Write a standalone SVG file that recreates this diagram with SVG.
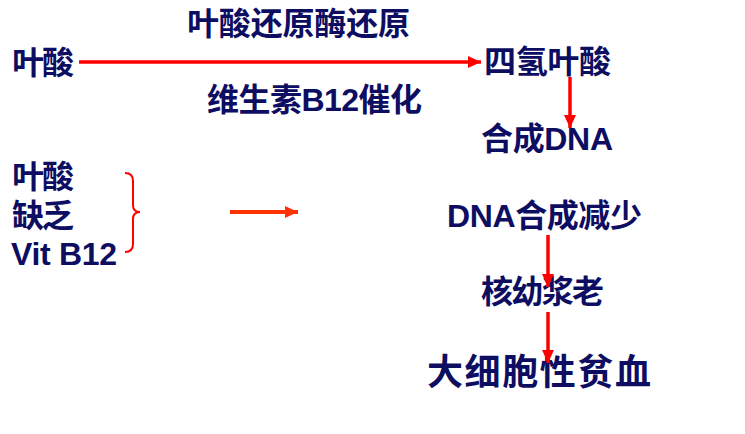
<svg xmlns="http://www.w3.org/2000/svg" width="745" height="434" viewBox="0 0 745 434">
<style>
text{font-family:"Liberation Sans","Noto Sans CJK SC",sans-serif;font-weight:bold;fill:#0d0d62;font-size:32px}
.big{font-size:36px}
.red{stroke:#ff0000;stroke-width:3.5;fill:none}
.org{stroke:#ff3300;stroke-width:4;fill:none}
</style>
<defs>
<marker id="ah" markerUnits="userSpaceOnUse" markerWidth="13" markerHeight="12" refX="13" refY="6" orient="auto">
<path d="M0,0 L13,6 L0,12 z" fill="#ff0000"/>
</marker>
<marker id="ahO" markerUnits="userSpaceOnUse" markerWidth="13" markerHeight="12" refX="13" refY="6" orient="auto">
<path d="M0,0 L13,6 L0,12 z" fill="#ff3300"/>
</marker>
</defs>
<g id="label-enzyme"><text x="187" y="35" textLength="223" lengthAdjust="spacing">叶酸还原酶还原</text></g>
<g id="label-b12"><text x="207" y="111" textLength="215" lengthAdjust="spacing">维生素B12催化</text></g>
<g id="node-folate"><text x="12" y="74" textLength="62" lengthAdjust="spacing">叶酸</text></g>
<g id="node-thf"><text x="484" y="73" textLength="127" lengthAdjust="spacing">四氢叶酸</text></g>
<g id="node-dna"><text x="481" y="150" textLength="132" lengthAdjust="spacing">合成DNA</text></g>
<g id="node-deficiency">
<text x="12" y="188" textLength="62" lengthAdjust="spacing">叶酸</text>
<text x="12" y="227" textLength="62" lengthAdjust="spacing">缺乏</text>
<text x="11" y="265" textLength="106" lengthAdjust="spacing">Vit B12</text>
</g>
<g id="node-dna-less"><text x="447" y="227" textLength="195" lengthAdjust="spacing">DNA合成减少</text></g>
<g id="node-nucleus"><text x="481" y="303" textLength="123" lengthAdjust="spacing">核幼浆老</text></g>
<g id="node-anemia"><text class="big" x="427" y="385" textLength="224" lengthAdjust="spacing">大细胞性贫血</text></g>
<g id="connectors">
<line class="red" x1="79" y1="62" x2="481" y2="62" marker-end="url(#ah)"/>
<line class="red" x1="570" y1="77" x2="570" y2="128" marker-end="url(#ah)"/>
<path d="M125,173 Q133,173 133,181 L133,205 Q133,212 140,212 Q133,212 133,219 L133,244 Q133,252 125,252" stroke="#ff0000" stroke-width="2" fill="none"/>
<line class="org" x1="230" y1="212" x2="298" y2="212" marker-end="url(#ahO)"/>
<line class="red" x1="548" y1="235" x2="548" y2="287" marker-end="url(#ah)"/>
<line class="red" x1="548" y1="312" x2="548" y2="363" marker-end="url(#ah)"/>
</g>
</svg>
